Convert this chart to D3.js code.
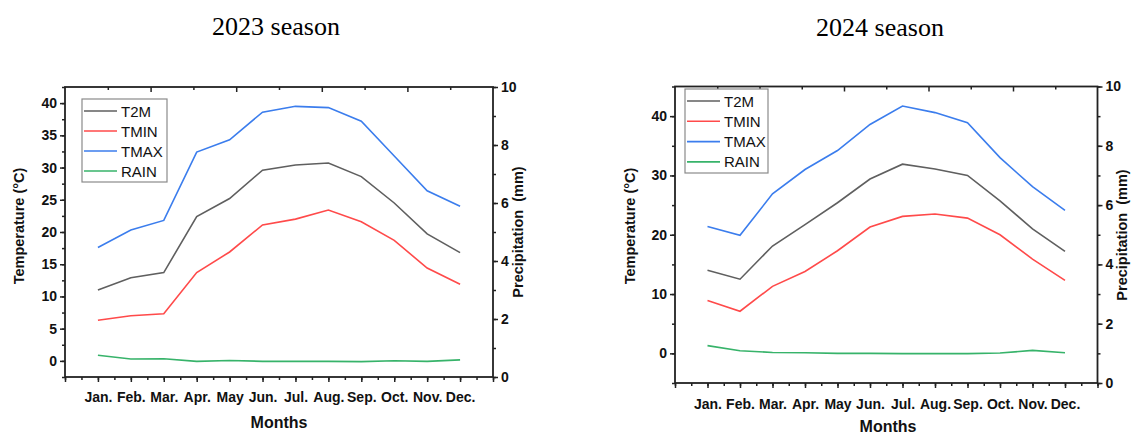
<!DOCTYPE html>
<html>
<head>
<meta charset="utf-8">
<script src="https://cdn.jsdelivr.net/npm/d3@7"></script>
<style>
  body { margin: 0; background: #fff; }
  svg { display: block; font-family: "Liberation Sans", Arial, sans-serif; }
</style>
</head>
<body>
<svg id="chart" width="1143" height="435"></svg>
<script>
// month labels
let months = ["Jan.", "Feb.", "Mar.", "Apr.", "May", "Jun.", "Jul.", "Aug.", "Sep.", "Oct.", "Nov.", "Dec."];
let seriesNames = ["T2M", "TMIN", "TMAX", "RAIN"];

// 2023 season
let t2m2023 = [11.0, 12.9, 13.7, 22.4, 25.2, 29.6, 30.4, 30.7, 28.6, 24.5, 19.7, 16.8];
let tmin2023 = [6.3, 7.0, 7.3, 13.7, 16.9, 21.1, 22.0, 23.4, 21.6, 18.7, 14.4, 11.9];
let tmax2023 = [17.6, 20.3, 21.8, 32.4, 34.3, 38.6, 39.5, 39.3, 37.2, 31.8, 26.4, 24.0];
let rain2023 = [0.75, 0.62, 0.63, 0.54, 0.57, 0.54, 0.54, 0.54, 0.53, 0.56, 0.54, 0.59];

// 2024 season
let t2m2024 = [14.0, 12.5, 18.1, 21.7, 25.4, 29.4, 31.9, 31.1, 30.0, 25.7, 21.0, 17.2];
let tmin2024 = [8.9, 7.1, 11.3, 13.8, 17.3, 21.3, 23.1, 23.5, 22.8, 20.0, 15.9, 12.3];
let tmax2024 = [21.4, 19.9, 26.9, 31.0, 34.2, 38.6, 41.7, 40.6, 38.9, 33.0, 28.1, 24.1];
let rain2024 = [1.26, 1.09, 1.03, 1.02, 1.0, 1.0, 0.99, 0.99, 0.99, 1.01, 1.1, 1.02];

let colors = { T2M: "#5f5f5f", TMIN: "#ff4a4a", TMAX: "#3b7ded", RAIN: "#37b36a" };

let svg = d3.select("#chart");

function drawPanel(p) {
    let x = d3.scaleLinear().domain([0, 13]).range([p.left, p.right]);
    let y = d3.scaleLinear().domain(p.tDomain).range([p.bottom, p.top]);
    let y2 = d3.scaleLinear().domain([0, 10]).range([p.bottom, p.top]);
    let xTop = d3.scaleLinear().domain([0, 10]).range([p.left, p.right]);

    let g = svg.append("g");

    // title
    g.append("text")
        .attr("x", p.titleX)
        .attr("y", p.titleY)
        .attr("text-anchor", "middle")
        .attr("font-family", "'Liberation Serif', 'Times New Roman', serif")
        .attr("font-size", "26px")
        .text(p.title);

    // left axis
    let yMinor = d3.range(p.tDomain[0], p.tDomain[1] + 0.01, p.tStep / 2);
    g.append("g")
        .attr("transform", "translate(" + p.left + ",0)")
        .call(d3.axisLeft(y).tickValues(yMinor).tickFormat("").tickSize(3).tickSizeOuter(0));
    g.append("g")
        .attr("class", "major")
        .attr("transform", "translate(" + p.left + ",0)")
        .call(d3.axisLeft(y).tickValues(d3.range(0, p.tDomain[1], p.tStep)).tickSize(5).tickPadding(3).tickSizeOuter(0));

    // right axis
    g.append("g")
        .attr("transform", "translate(" + p.right + ",0)")
        .call(d3.axisRight(y2).tickValues(d3.range(0, 10.5, 1)).tickFormat("").tickSize(3).tickSizeOuter(0));
    g.append("g")
        .attr("class", "major")
        .attr("transform", "translate(" + p.right + ",0)")
        .call(d3.axisRight(y2).tickValues(d3.range(0, 10.5, 2)).tickSize(5).tickPadding(3).tickSizeOuter(0));

    // bottom axis
    g.append("g")
        .attr("transform", "translate(0," + p.bottom + ")")
        .call(d3.axisBottom(x).tickValues(d3.range(0, 13.1, 0.5)).tickFormat("").tickSize(3).tickSizeOuter(0));
    g.append("g")
        .attr("class", "major")
        .attr("transform", "translate(0," + p.bottom + ")")
        .call(d3.axisBottom(x).tickValues(d3.range(0, 14, 1))
            .tickFormat(function (d) { return months[d - 1] || ""; })
            .tickSize(5).tickPadding(p.xLabelPad).tickSizeOuter(0));

    // top axis (inward ticks)
    g.append("g")
        .attr("transform", "translate(0," + p.top + ")")
        .call(d3.axisBottom(xTop).tickValues([1, 3, 5, 7, 9]).tickFormat("").tickSize(3).tickSizeOuter(0));
    g.append("g")
        .attr("transform", "translate(0," + p.top + ")")
        .call(d3.axisBottom(xTop).tickValues([2, 4, 6, 8]).tickFormat("").tickSize(5).tickSizeOuter(0));

    g.selectAll(".domain").remove();
    g.selectAll(".tick line").attr("stroke", "#222").attr("stroke-width", 1.5);
    g.selectAll(".major .tick text")
        .attr("fill", "#111")
        .attr("font-size", "14px")
        .attr("font-weight", "bold")
        .attr("font-family", "'Liberation Sans', Arial, sans-serif");

    // frame
    g.append("rect")
        .attr("x", p.left)
        .attr("y", p.top)
        .attr("width", p.right - p.left)
        .attr("height", p.bottom - p.top)
        .attr("fill", "none")
        .attr("stroke", "#222")
        .attr("stroke-width", 1.8);

    // lines
    let line = d3.line()
        .x(function (d, i) { return x(i + 1); })
        .y(function (d) { return y(d); });
    let line2 = d3.line()
        .x(function (d, i) { return x(i + 1); })
        .y(function (d) { return y2(d); });

    let series = [
        { name: "T2M", values: p.t2m, fn: line },
        { name: "TMIN", values: p.tmin, fn: line },
        { name: "TMAX", values: p.tmax, fn: line },
        { name: "RAIN", values: p.rain, fn: line2 }
    ];
    series.forEach(function (s) {
        g.append("path")
            .attr("d", s.fn(s.values))
            .attr("fill", "none")
            .attr("stroke", colors[s.name])
            .attr("stroke-width", 1.6);
    });

    // axis titles
    g.append("text")
        .attr("transform", "translate(" + p.yTitleX + "," + p.yTitleY + ") rotate(-90)")
        .attr("text-anchor", "middle")
        .attr("font-size", "14.5px")
        .attr("font-weight", "bold")
        .attr("fill", "#111")
        .text("Temperature (°C)");

    g.append("text")
        .attr("transform", "translate(" + p.y2TitleX + "," + p.y2TitleY + ") rotate(-90)")
        .attr("text-anchor", "middle")
        .attr("font-size", "14.5px")
        .attr("font-weight", "bold")
        .attr("fill", "#111")
        .attr("xml:space", "preserve")
        .style("white-space", "pre")
        .text("Precipitation  (mm)");

    g.append("text")
        .attr("x", p.xTitleX)
        .attr("y", p.xTitleY)
        .attr("text-anchor", "middle")
        .attr("font-size", "16px")
        .attr("font-weight", "bold")
        .attr("fill", "#111")
        .text("Months");

    // legend
    let lg = g.append("g");
    lg.append("rect")
        .attr("x", p.legend.x)
        .attr("y", p.legend.y)
        .attr("width", p.legend.w)
        .attr("height", p.legend.h)
        .attr("fill", "#fff")
        .attr("stroke", "#8a8a8a")
        .attr("stroke-width", 1.2);
    seriesNames.forEach(function (name, i) {
        let ry = p.legend.rowY + i * p.legend.rowH;
        lg.append("line")
            .attr("x1", p.legend.x + 2)
            .attr("x2", p.legend.x + 35)
            .attr("y1", ry)
            .attr("y2", ry)
            .attr("stroke", colors[name])
            .attr("stroke-width", 1.6);
        lg.append("text")
            .attr("x", p.legend.x + 39)
            .attr("y", ry + 5.5)
            .attr("font-size", "15px")
            .attr("fill", "#111")
            .text(name);
    });
}

drawPanel({
    title: "2023 season", titleX: 276, titleY: 35,
    left: 65, right: 493, top: 87, bottom: 377,
    tDomain: [-2.5, 42.5], tStep: 5,
    t2m: t2m2023, tmin: tmin2023, tmax: tmax2023, rain: rain2023,
    xLabelPad: 10,
    yTitleX: 24, yTitleY: 226,
    y2TitleX: 523, y2TitleY: 232,
    xTitleX: 279, xTitleY: 428,
    legend: { x: 82, y: 99, w: 85, h: 83, rowY: 111, rowH: 20 }
});

drawPanel({
    title: "2024 season", titleX: 880, titleY: 36,
    left: 675, right: 1097.5, top: 86.5, bottom: 383,
    tDomain: [-5, 45], tStep: 10,
    t2m: t2m2024, tmin: tmin2024, tmax: tmax2024, rain: rain2024,
    xLabelPad: 11,
    yTitleX: 635, yTitleY: 226,
    y2TitleX: 1127, y2TitleY: 235,
    xTitleX: 888, xTitleY: 432,
    legend: { x: 685, y: 89, w: 83, h: 84, rowY: 101, rowH: 20.3 }
});
</script>
</body>
</html>
